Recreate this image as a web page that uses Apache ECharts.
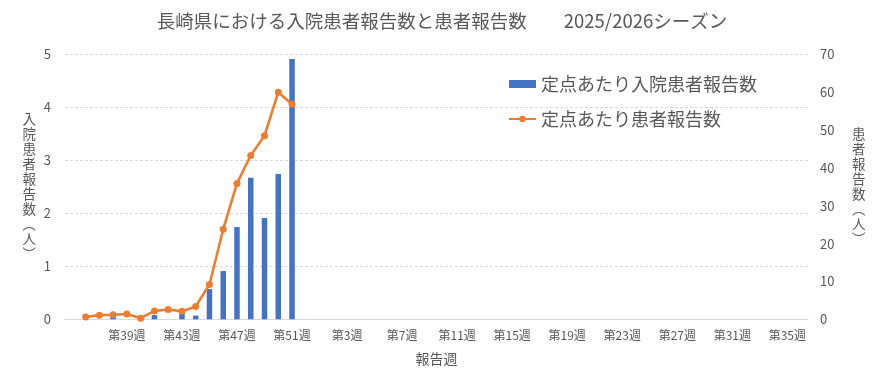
<!DOCTYPE html>
<html><head><meta charset="utf-8">
<script src="https://cdn.jsdelivr.net/npm/echarts@6/dist/echarts.min.js"></script>
<style>html,body{margin:0;padding:0;background:#fff}#c{width:884px;height:380px}</style>
</head><body><div id="c"></div>
<script>
// categories: leading/trailing blank slot, weeks 36..52 (2025), 1..35 (2026)
const weeks2025 = [36,37,38,39,40,41,42,43,44,45,46,47,48,49,50,51,52];
const weeks2026 = [1,2,3,4,5,6,7,8,9,10,11,12,13,14,15,16,17,18,19,20,21,22,23,24,25,26,27,28,29,30,31,32,33,34,35];
const categories = [""].concat(weeks2025.map(w => "第" + w + "週"), weeks2026.map(w => "第" + w + "週"), [""]);
// values for weeks 36..51 (the rest not yet reported)
const inpatientPerSite = [0, 0, 0.07, 0, 0.07, 0.08, 0, 0.13, 0.07, 0.57, 0.91, 1.74, 2.67, 1.91, 2.74, 4.91];
const patientPerSite = [0.6, 1.1, 1.2, 1.4, 0.3, 2.2, 2.6, 2.1, 3.4, 9.2, 23.8, 35.9, 43.3, 48.5, 60.0, 56.8];
const leftTicks = {min: 0, max: 5, interval: 1};
const rightTicks = {min: 0, max: 70, interval: 10};

function pad(arr) {
  const out = [null];
  for (let i = 0; i < categories.length - 1; i++) out.push(i < arr.length ? arr[i] : null);
  return out;
}
const barData = pad(inpatientPerSite);
const lineData = pad(patientPerSite);

const FONT = '"Noto Sans CJK JP", "Noto Sans", sans-serif';
const GRAY = '#595959';
const chart = echarts.init(document.getElementById('c'));
chart.setOption({
  animation: false,
  textStyle: {fontFamily: FONT, color: GRAY},
  title: {
    text: '長崎県における入院患者報告数と患者報告数　　2025/2026シーズン',
    left: 'center', top: 7,
    textStyle: {fontFamily: FONT, fontSize: 18.5, fontWeight: 'normal', color: GRAY}
  },
  legend: {
    orient: 'vertical', left: 503, top: 70, itemWidth: 27, itemHeight: 8, itemGap: 17,
    textStyle: {fontFamily: FONT, fontSize: 18, color: GRAY},
    data: [
      {name: '定点あたり入院患者報告数', icon: 'rect'},
      {name: '定点あたり患者報告数'}
    ]
  },
  grid: {left: 65, right: 76, top: 54.3, bottom: 60.7, containLabel: false},
  xAxis: {
    type: 'category', data: categories, boundaryGap: true,
    name: '報告週', nameLocation: 'middle', nameGap: 32,
    nameTextStyle: {fontFamily: FONT, fontSize: 14, color: GRAY},
    axisLine: {lineStyle: {color: '#D9D9D9', width: 1}},
    axisTick: {show: false},
    axisLabel: {interval: 3, fontFamily: FONT, fontSize: 12, color: GRAY, margin: 10}
  },
  yAxis: [
    {
      type: 'value', min: leftTicks.min, max: leftTicks.max, interval: leftTicks.interval,
      name: '入\n院\n患\n者\n報\n告\n数\n︵\n人\n︶', nameLocation: 'middle', nameGap: 29, nameRotate: 0,
      nameTextStyle: {fontFamily: FONT, fontSize: 13.5, color: GRAY, lineHeight: 15, padding: [0, 0, 0, 0]},
      axisLine: {show: false}, axisTick: {show: false},
      axisLabel: {fontFamily: FONT, fontSize: 13, color: GRAY, margin: 14},
      splitLine: {lineStyle: {color: '#D9D9D9', type: [3, 2], width: 1}}
    },
    {
      type: 'value', min: rightTicks.min, max: rightTicks.max, interval: rightTicks.interval,
      name: '患\n者\n報\n告\n数\n︵\n人\n︶', nameLocation: 'middle', nameGap: 44, nameRotate: 0,
      nameTextStyle: {fontFamily: FONT, fontSize: 13.5, color: GRAY, lineHeight: 15, padding: [0, 0, 12, 0]},
      axisLine: {show: false}, axisTick: {show: false},
      axisLabel: {fontFamily: FONT, fontSize: 13, color: GRAY, margin: 12},
      splitLine: {show: false}
    }
  ],
  series: [
    {
      name: '定点あたり入院患者報告数', type: 'bar', yAxisIndex: 0, data: barData,
      barWidth: 5.5, itemStyle: {color: '#4472C4'}
    },
    {
      name: '定点あたり患者報告数', type: 'line', yAxisIndex: 1, data: lineData,
      symbol: 'circle', symbolSize: 7, connectNulls: false,
      lineStyle: {color: '#ED7D31', width: 2.6}, itemStyle: {color: '#ED7D31'}
    }
  ]
});
</script></body></html>
